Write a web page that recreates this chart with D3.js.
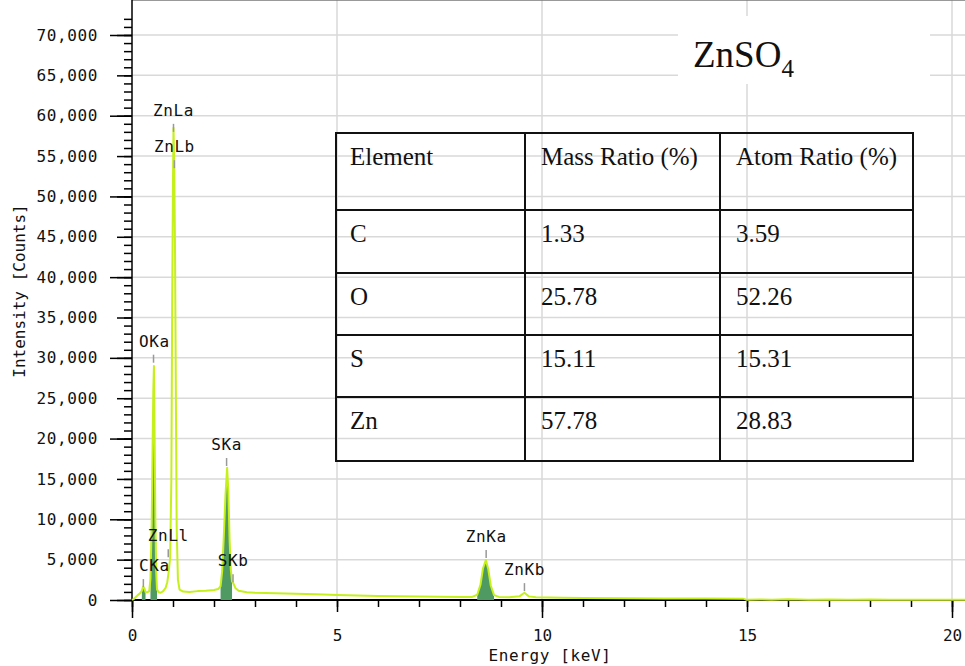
<!DOCTYPE html>
<html>
<head>
<meta charset="utf-8">
<script src="https://cdn.jsdelivr.net/npm/d3@7"></script>
<style>
body { margin: 0; background: #fff; }
svg { display: block; }
</style>
</head>
<body>
<svg width="965" height="666"></svg>
<script>
// EDS spectrum (keV, counts)
var energy = [0, 0.05, 0.10, 0.15, 0.20, 0.24, 0.27, 0.30, 0.33, 0.37, 0.42, 0.45, 0.48, 0.50, 0.52, 0.535, 0.55, 0.57, 0.59, 0.61,
              0.65, 0.70, 0.76, 0.82, 0.86, 0.89, 0.93, 0.96, 0.98, 1.00, 1.012, 1.03, 1.05, 1.07, 1.09, 1.12, 1.16, 1.25, 1.40, 1.60,
              1.80, 2.00, 2.10, 2.16, 2.20, 2.24, 2.28, 2.32, 2.35, 2.38, 2.41, 2.44, 2.47, 2.52, 2.60, 2.80, 3.00, 3.50, 4.00, 4.50,
              5.00, 5.50, 6.00, 6.50, 7.00, 7.50, 8.00, 8.30, 8.42, 8.50, 8.56, 8.63, 8.69, 8.75, 8.83, 8.95, 9.20, 9.45, 9.57, 9.68,
              9.85, 10.5, 11.0, 12.0, 13.0, 14.0, 14.9, 15.0, 15.3, 15.6, 16.0, 16.5, 17.0, 17.5, 18.0, 18.5, 19.0, 19.5, 20.0, 20.4];
var counts = [0, 150, 400, 650, 850, 1150, 1650, 1500, 1000, 950, 1100, 2600, 9500, 18000, 26000, 29000, 21000, 10000, 3500, 1300,
              950, 900, 1100, 1500, 2200, 3300, 5200, 15000, 37000, 52000, 58500, 54000, 43000, 25000, 9000, 2500, 1300, 1050, 1000, 1100,
              1150, 1250, 1350, 1700, 3600, 8000, 13000, 16400, 13500, 7500, 3800, 2300, 2100, 1500, 1150, 950, 900, 850, 780, 700,
              620, 560, 500, 450, 420, 390, 370, 380, 650, 1900, 3900, 4950, 3800, 1800, 600, 380, 350, 450, 900, 450,
              330, 280, 260, 230, 200, 180, 170, 20, 70, 30, 80, 30, 70, 20, 60, 30, 40, 20, 30, 20];

// shaded peaks (energy ranges)
var filledPeaks = [[0.24, 0.33], [0.45, 0.61], [2.16, 2.44], [8.42, 8.83]];

// peak markers
var peakNames  = ["CKa", "OKa", "ZnLl", "ZnLa", "ZnLb", "SKa", "SKb", "ZnKa", "ZnKb"],
    peakEnergy = [0.277, 0.525, 0.884, 1.012, 1.034, 2.307, 2.464, 8.638, 9.572],
    peakMark   = [1600, 29400, 5300, 58000, 53500, 16600, 2200, 5200, 1100];

var xTicks = [0, 5, 10, 15, 20],
    yTicks = d3.range(0, 70001, 5000);

// inset table
var tableHeader = ["Element", "Mass Ratio (%)", "Atom Ratio (%)"],
    elements  = ["C", "O", "S", "Zn"],
    massRatio = [1.33, 25.78, 15.11, 57.78],
    atomRatio = [3.59, 52.26, 15.31, 28.83];

var svg = d3.select("svg"),
    left = 132, top = 14, bottom = 600, right = 965,
    mono = "DejaVu Sans Mono",
    serif = "Liberation Serif";

var x = d3.scaleLinear().domain([0, 20]).range([132, 952]),
    y = d3.scaleLinear().domain([0, 70000]).range([bottom, 35]);

// grid
var grid = svg.append("g").attr("stroke", "#d9d9d9").attr("stroke-width", 1.5);
grid.selectAll(".h").data(yTicks.filter(d => d > 0)).enter().append("line")
    .attr("x1", left).attr("x2", right)
    .attr("y1", d => y(d)).attr("y2", d => y(d));
grid.selectAll(".v").data(xTicks.filter(d => d > 0)).enter().append("line")
    .attr("x1", d => x(d)).attr("x2", d => x(d))
    .attr("y1", top).attr("y2", bottom);

// title box
svg.append("rect").attr("x", 678).attr("y", 16).attr("width", 252).attr("height", 68).attr("fill", "#fff");
var title = svg.append("text").attr("x", 693).attr("y", 67)
    .attr("font-family", serif).attr("font-size", 37).attr("fill", "#111");
title.append("tspan").text("ZnSO");
title.append("tspan").attr("font-size", 25).attr("dy", 10).text("4");

// frame
svg.append("line").attr("x1", left).attr("x2", right).attr("y1", top).attr("y2", top)
    .attr("stroke", "#777").attr("stroke-width", 1.5);
svg.append("line").attr("x1", left).attr("x2", left).attr("y1", top).attr("y2", bottom)
    .attr("stroke", "#000").attr("stroke-width", 1.5);
svg.append("line").attr("x1", left).attr("x2", right).attr("y1", bottom).attr("y2", bottom)
    .attr("stroke", "#000").attr("stroke-width", 2);

// y ticks: 1000 / 5000 / 10000
[[1000, 8], [5000, 15], [10000, 22]].forEach(function(t) {
    svg.append("g")
       .attr("transform", "translate(" + left + ",0)")
       .attr("stroke-width", 1.5)
       .call(d3.axisLeft(y).tickValues(d3.range(0, 72001, t[0]).filter(d => t[0] == 1000 || d <= 70000)).tickSize(t[1]).tickFormat(""))
       .call(g => g.select(".domain").remove());
});
svg.append("g")
   .attr("transform", "translate(" + left + ",0)")
   .call(d3.axisLeft(y).tickValues(yTicks).tickSize(0).tickPadding(34).tickFormat(d3.format(",")))
   .call(g => g.select(".domain").remove())
   .attr("font-family", mono).attr("font-size", 16)
   .selectAll("text").attr("fill", "#111").attr("letter-spacing", 0.6);

// x ticks: 1 / 5 / 10 keV
[[1, 7], [5, 12], [10, 18]].forEach(function(t) {
    svg.append("g")
       .attr("transform", "translate(0," + bottom + ")")
       .attr("stroke-width", 1.5)
       .call(d3.axisBottom(x).tickValues(d3.range(0, 21, t[0])).tickSize(t[1]).tickFormat(""))
       .call(g => g.select(".domain").remove());
});
svg.append("g")
   .attr("transform", "translate(0," + bottom + ")")
   .call(d3.axisBottom(x).tickValues(xTicks).tickSize(0).tickPadding(30).tickFormat(d3.format("d")))
   .call(g => g.select(".domain").remove())
   .attr("font-family", mono).attr("font-size", 16)
   .selectAll("text").attr("fill", "#111");

// axis titles
svg.append("text")
   .attr("x", 550).attr("y", 661)
   .attr("text-anchor", "middle")
   .attr("font-family", mono).attr("font-size", 16).attr("letter-spacing", 0.6)
   .attr("fill", "#111")
   .text("Energy [keV]");
svg.append("text")
   .attr("transform", "translate(25,291) rotate(-90)")
   .attr("text-anchor", "middle")
   .attr("font-family", mono).attr("font-size", 16)
   .attr("fill", "#111")
   .text("Intensity [Counts]");

// spectrum
var spectrum = energy.map((e, i) => [e, counts[i]]);
var area = d3.area().x(d => x(d[0])).y0(y(0)).y1(d => y(d[1])),
    line = d3.line().x(d => x(d[0])).y(d => y(d[1]));

filledPeaks.forEach(function(r) {
    svg.append("path")
       .datum(spectrum.filter(d => d[0] >= r[0] && d[0] <= r[1]))
       .attr("d", area)
       .attr("fill", "#4f9a63");
});
svg.append("path")
   .datum(spectrum)
   .attr("d", line)
   .attr("fill", "none")
   .attr("stroke", "#c6f01c")
   .attr("stroke-width", 2)
   .attr("stroke-linejoin", "round");

// peak markers and labels
var peaks = svg.append("g");
d3.range(peakNames.length).forEach(function(i) {
    var px = x(peakEnergy[i]), py = y(peakMark[i]);
    peaks.append("line")
         .attr("x1", px).attr("x2", px)
         .attr("y1", py).attr("y2", py - 8)
         .attr("stroke", "#999").attr("stroke-width", 1.5);
    var t = peaks.append("text")
         .attr("y", py - 16)
         .attr("font-family", mono).attr("font-size", 16).attr("letter-spacing", 0.6)
         .attr("fill", "#111")
         .text(peakNames[i]);
    var w = t.node().getComputedTextLength();
    t.attr("x", Math.max(px - w / 2, left + 7));
});

// table
var cols = [336, 525, 720, 913],
    rows = [133, 210, 273, 335, 397, 461];
var table = svg.append("g");
table.selectAll(".row").data(rows).enter().append("line")
     .attr("x1", cols[0] - 1).attr("x2", cols[3] + 1)
     .attr("y1", d => d).attr("y2", d => d)
     .attr("stroke", "#111").attr("stroke-width", 2);
table.selectAll(".col").data(cols).enter().append("line")
     .attr("x1", d => d).attr("x2", d => d)
     .attr("y1", rows[0]).attr("y2", rows[rows.length - 1])
     .attr("stroke", "#111").attr("stroke-width", 2);

var cells = [tableHeader].concat(elements.map((e, i) => [e, d3.format(".2f")(massRatio[i]), d3.format(".2f")(atomRatio[i])]));
cells.forEach(function(row, r) {
    row.forEach(function(v, c) {
        table.append("text")
             .attr("x", cols[c] + (c == 0 ? 14 : 16))
             .attr("y", rows[r] + 32)
             .attr("font-family", serif).attr("font-size", 25)
             .attr("fill", "#111")
             .text(v);
    });
});
</script>
</body>
</html>
